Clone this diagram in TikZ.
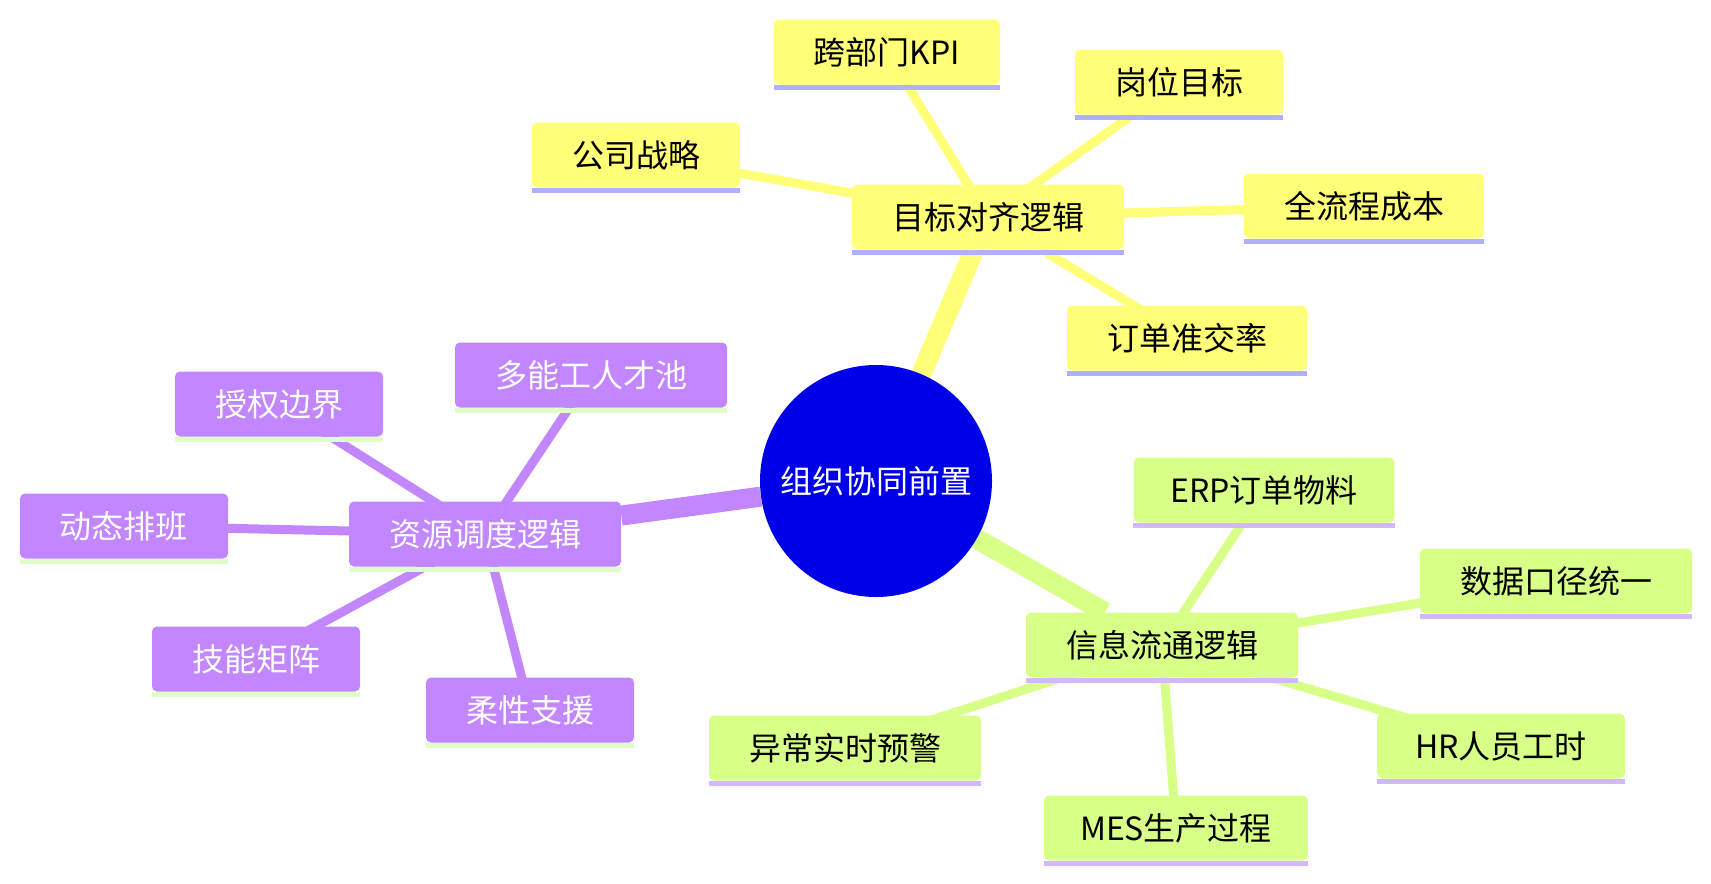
\documentclass[tikz,border=0pt]{standalone}
\usepackage{fontspec}
\setmainfont{Noto Sans CJK SC}
\usetikzlibrary{backgrounds}
\definecolor{rootblue}{HTML}{0000E8}
\definecolor{yel}{HTML}{FFFF78}
\definecolor{yelline}{HTML}{B0B0FF}
\definecolor{pur}{HTML}{C286FF}
\definecolor{purline}{HTML}{DFFFC6}
\definecolor{grn}{HTML}{D8FF87}
\definecolor{grnline}{HTML}{D2B9FF}

\begin{document}
\begin{tikzpicture}[x=0.75pt,y=-0.75pt,
  box/.style={rounded corners=3.75pt,minimum height=48.75pt,inner xsep=30pt,inner ysep=0pt},
  ybox/.style={box,fill=yel,text=black},
  pbox/.style={box,fill=pur,text=white},
  gbox/.style={box,fill=grn,text=black},
  trunk/.style={line width=15pt},
  twig/.style={line width=6.75pt}]
\tikzstyle{every node}=[font=\fontsize{24pt}{28pt}\selectfont]
\useasboundingbox (0,0) rectangle (1711,883);

\node[circle,fill=rootblue,text=white,minimum size=174pt,inner sep=0pt] (r) at (876,481) {组织协同前置};

\node[ybox] (g) at (988,217) {目标对齐逻辑};
\node[ybox] (g1) at (636,155) {公司战略};
\node[ybox] (g2) at (887,52) {跨部门KPI};
\node[ybox] (g3) at (1179,82) {岗位目标};
\node[ybox] (g4) at (1364,206) {全流程成本};
\node[ybox] (g5) at (1187,338) {订单准交率};

\node[pbox] (p) at (485,534) {资源调度逻辑};
\node[pbox] (p1) at (591,375) {多能工人才池};
\node[pbox] (p2) at (279,404) {授权边界};
\node[pbox] (p3) at (124,526) {动态排班};
\node[pbox] (p4) at (256,659) {技能矩阵};
\node[pbox] (p5) at (530,710) {柔性支援};

\node[gbox] (i) at (1162,645) {信息流通逻辑};
\node[gbox,inner xsep=27.5pt] (i1) at (1264,490) {ERP订单物料};
\node[gbox] (i2) at (1556,581) {数据口径统一};
\node[gbox,inner xsep=28.5pt] (i3) at (1501,746) {HR人员工时};
\node[gbox,inner xsep=27pt] (i4) at (1176,828) {MES生产过程};
\node[gbox] (i5) at (845,748) {异常实时预警};

\begin{scope}[on background layer]
  \draw[trunk,yel] (r) -- (g);
  \draw[trunk,pur] (r) -- (p);
  \draw[trunk,grn] (r) -- (i);
  \foreach \n in {g1,g2,g3,g4,g5} \draw[twig,yel] (g.center) -- (\n.center);
  \foreach \n in {p1,p2,p3,p4,p5} \draw[twig,pur] (p.center) -- (\n.center);
  \foreach \n in {i1,i2,i3,i4,i5} \draw[twig,grn] (i.center) -- (\n.center);
\end{scope}

\foreach \n in {g,g1,g2,g3,g4,g5}
  \fill[yelline] (\n.south west) rectangle ([yshift=-3.75pt]\n.south east);
\foreach \n in {p,p1,p2,p3,p4,p5}
  \fill[purline] (\n.south west) rectangle ([yshift=-3.75pt]\n.south east);
\foreach \n in {i,i1,i2,i3,i4,i5}
  \fill[grnline] (\n.south west) rectangle ([yshift=-3.75pt]\n.south east);
\end{tikzpicture}
\end{document}
